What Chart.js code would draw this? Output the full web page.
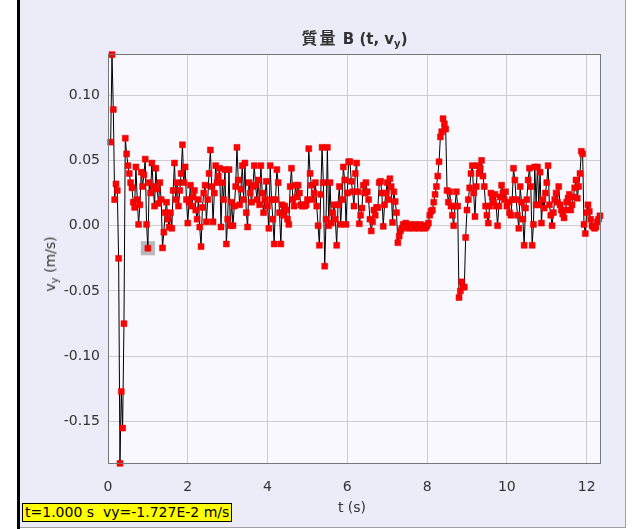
<!DOCTYPE html>
<html>
<head>
<meta charset="utf-8">
<script src="https://cdn.jsdelivr.net/npm/chart.js@4.4.0/dist/chart.umd.min.js"></script>
<style>
    body { margin: 0; width: 641px; height: 529px; overflow: hidden; position: relative; background: #fff;
           font-family: "DejaVu Sans", sans-serif; }
    #leftbar { position: absolute; left: 17px; top: 0; width: 3px; height: 529px; background: #000; }
    #panel { position: absolute; left: 20px; top: 0; width: 605px; height: 527px; background: #ececf9;
             border-right: 1px solid #a0a0a0; border-bottom: 1px solid #a0a0a0; }
    canvas { position: absolute; left: 0; top: 0; }
    #title { position: absolute; left: 108px; width: 493px; top: 25px; text-align: center; color: #333;
             font: bold 15px "DejaVu Sans", "Noto Sans CJK TC", sans-serif; }
    #title .cjk { font-family: "Noto Sans CJK TC", sans-serif; font-size: 16px; letter-spacing: 2px; }
    #ylab { position: absolute; left: 50px; top: 264px; transform: translate(-50%, -50%) rotate(-90deg);
            white-space: nowrap; font-size: 14px; color: #333; }
    #xlab { position: absolute; left: 352px; top: 499px; transform: translateX(-50%); font-size: 14px; color: #333; }
    #status { position: absolute; left: 22px; top: 503px; height: 17px; line-height: 17px; background: #ffff00;
              border: 1px solid #000; font-size: 14px; padding: 0 2px; white-space: pre; color: #000; }
    sub { font-size: 10px; vertical-align: -3px; line-height: 0; }
</style>
</head>
<body>
<div id="leftbar"></div>
<div id="panel"></div>
<canvas id="chart" width="641" height="529"></canvas>
<div id="title"><span class="cjk">質量</span> B (t, v<sub>y</sub>)</div>
<div id="ylab">v<sub>y</sub> (m/s)</div>
<div id="xlab">t (s)</div>
<div id="status">t=1.000 s  vy=-1.727E-2 m/s</div>
<script>
// video frames, 30 per second, first velocity at frame 2
const frameRate = 30;
const firstFrame = 2;
const selectedFrame = 30;

// vy (m/s), one value per frame
const vy = [
    0.064, 0.131, 0.089, 0.020, 0.032, 0.027, -0.025, -0.182, -0.127, -0.155, -0.075,
    0.067, 0.055, 0.046, 0.040, 0.033, 0.029, 0.018, 0.014, 0.045, 0.020,
    0.001, 0.016, 0.041, 0.030, 0.039, 0.051, 0.001, -0.01727, 0.033, 0.025,
    0.048, 0.030, 0.015, 0.044, 0.028, 0.017, 0.033, 0.020, -0.017, -0.005,
    0.010, 0.018, 0.005,
    -0.001, 0.010, -0.002, 0.027, 0.048, 0.020, 0.033, 0.015, 0.027, 0.040,
    0.062, 0.033, 0.045, 0.020, 0.002, 0.018, 0.031, 0.015, 0.022, 0.027,
    0.012, 0.005, 0.020, -0.001, -0.016, 0.014, 0.025, 0.031, 0.003, 0.020,
    0.040, 0.058, 0.030, 0.003, 0.025, 0.046, 0.033,
    0.038, 0.044, -0.001, 0.033, 0.020, 0.043, -0.014, 0.005, 0.043, 0.000,
    0.018, 0.000, 0.015, 0.030, 0.060, 0.035, 0.016, 0.028, 0.046, 0.020,
    0.048, 0.010, -0.001, 0.033, 0.025, 0.018, 0.030, 0.046, 0.031, 0.020,
    0.035, 0.016, 0.046, 0.025, 0.010, 0.020, 0.034, 0.015, -0.002, 0.046,
    0.020, 0.005, -0.014,
    0.020, 0.043, 0.033, 0.010, -0.014, 0.016, 0.008, 0.015, 0.012, 0.005,
    0.001, 0.030, 0.044, 0.020, 0.015, 0.031, 0.022, 0.031, 0.025, 0.016,
    0.015, 0.016, 0.015, 0.016, 0.020, 0.059, 0.040, 0.031, 0.020, 0.025,
    0.033, 0.015, 0.000, -0.015, 0.024, 0.060, 0.033, -0.031, 0.005, 0.060,
    0.000,
    0.033, 0.002, 0.010, 0.016, 0.005, -0.015, 0.016, 0.030, 0.001, 0.020,
    0.045, 0.035, 0.001, 0.025, 0.049, 0.049, 0.034, 0.026, 0.015, 0.040,
    0.048, 0.026, 0.0015, 0.008, 0.0135, 0.031, 0.025, 0.033, 0.026, 0.020,
    0.005, -0.004, 0.003, 0.012, 0.008, 0.014, 0.014, 0.033, 0.034,
    0.025, -0.0005, 0.016, 0.025, 0.033, 0.020, 0.036, 0.030, 0.0025, 0.026,
    0.0185, 0.010, -0.013, -0.008, -0.004, -0.002, 0.001, -0.001, 0.002, 0.000,
    -0.002, 0.001, -0.001, 0.000, -0.002, 0.001, -0.001, 0.000, -0.002, 0.001,
    -0.001, 0.000, -0.002, -0.0015, 0.000, 0.002, 0.008, 0.011, 0.012, 0.018,
    0.024, 0.030, 0.038, 0.049, 0.068, 0.072, 0.082, 0.078, 0.074, 0.027,
    0.018, 0.026, 0.015, 0.008, 0.000, 0.015, 0.026, 0.015, -0.055, -0.050,
    -0.043, -0.047, -0.047, -0.009, 0.012, 0.020, 0.029, 0.040, 0.046, 0.025,
    0.007, 0.030, 0.046, 0.040, 0.044, 0.050,
    0.038, 0.030, 0.015, 0.008, 0.002, 0.015, 0.025, 0.022, 0.018, 0.024,
    0.015, 0.000, 0.015, 0.022, 0.031, 0.025, 0.020, 0.026, 0.015, 0.018,
    0.010, 0.008, 0.020, 0.044, 0.035, 0.020, 0.008, -0.002, 0.030, 0.018,
    0.005, -0.015, 0.0135, 0.020, 0.035, 0.044, 0.030, -0.015, 0.001, 0.045,
    0.016, 0.045, 0.016, 0.041,
    0.002, 0.020, 0.0135, 0.025, 0.033, 0.046, 0.016, 0.008, 0.000, 0.010,
    0.020, 0.025, 0.018, 0.030, 0.016, 0.012, 0.009, 0.006, 0.012, 0.018,
    0.021, 0.024, 0.012, 0.016, 0.022, 0.029, 0.035, 0.021, 0.030, 0.040,
    0.057, 0.055, 0.001, -0.006, 0.010, 0.016, 0.011, 0.005, 0.000, -0.001,
    -0.002, -0.001, 0.003, 0.005, 0.0076
];

const xTicks = [0, 2, 4, 6, 8, 10, 12];
const yTicks = [-0.15, -0.10, -0.05, 0.00, 0.05, 0.10];
const xRange = [0, 12.36];
const yRange = [-0.1825, 0.1315];

const points = vy.map((v, i) => ({ x: (firstFrame + i) / frameRate, y: v }));
const selected = [points[selectedFrame - firstFrame]];

const plotBg = '#f8f8fe';

// fill plot area and draw the full frame around it
const framePlugin = {
    id: 'frame',
    beforeDraw(chart) {
        const { ctx, chartArea: a } = chart;
        ctx.save();
        ctx.fillStyle = plotBg;
        ctx.fillRect(a.left, a.top, a.right - a.left, a.bottom - a.top);
        ctx.restore();
    },
    afterDraw(chart) {
        const { ctx, chartArea: a } = chart;
        ctx.save();
        ctx.strokeStyle = '#777';
        ctx.lineWidth = 1;
        ctx.strokeRect(a.left + 0.5, a.top + 0.5, a.right - a.left - 1, a.bottom - a.top - 1);
        ctx.restore();
    }
};

const tickFont = { family: '"DejaVu Sans", sans-serif', size: 14 };

new Chart(document.getElementById('chart'), {
    type: 'scatter',
    data: {
        datasets: [{
            data: points,
            showLine: true,
            borderColor: '#000',
            borderWidth: 1,
            pointStyle: 'rect',
            pointRadius: 4.2,
            pointBackgroundColor: '#ff0000',
            pointBorderColor: '#e00000',
            pointBorderWidth: 0.5,
            clip: 5,
            order: 0
        }, {
            data: selected,
            showLine: false,
            pointStyle: 'rect',
            pointRadius: 10,
            pointBackgroundColor: 'rgba(150,150,150,0.65)',
            pointBorderWidth: 0,
            clip: 12,
            order: 1
        }]
    },
    plugins: [framePlugin],
    options: {
        responsive: false,
        animation: false,
        devicePixelRatio: 1,
        layout: { padding: { top: 54, right: 40, left: 0, bottom: 0 } },
        plugins: { legend: { display: false }, tooltip: { enabled: false } },
        scales: {
            x: {
                type: 'linear',
                min: xRange[0], max: xRange[1],
                afterFit(scale) { scale.height = 65; },
                afterBuildTicks(scale) { scale.ticks = xTicks.map(v => ({ value: v })); },
                ticks: { font: tickFont, color: '#333', padding: 15, callback: v => String(v) },
                grid: { color: '#cfcfcf', drawTicks: false },
                border: { display: false }
            },
            y: {
                min: yRange[0], max: yRange[1],
                afterFit(scale) { scale.width = 108; },
                afterBuildTicks(scale) { scale.ticks = yTicks.map(v => ({ value: v })); },
                ticks: { font: tickFont, color: '#333', padding: 8, callback: v => v.toFixed(2) },
                grid: { color: '#cfcfcf', drawTicks: false },
                border: { display: false }
            }
        }
    }
});
</script>
</body>
</html>
